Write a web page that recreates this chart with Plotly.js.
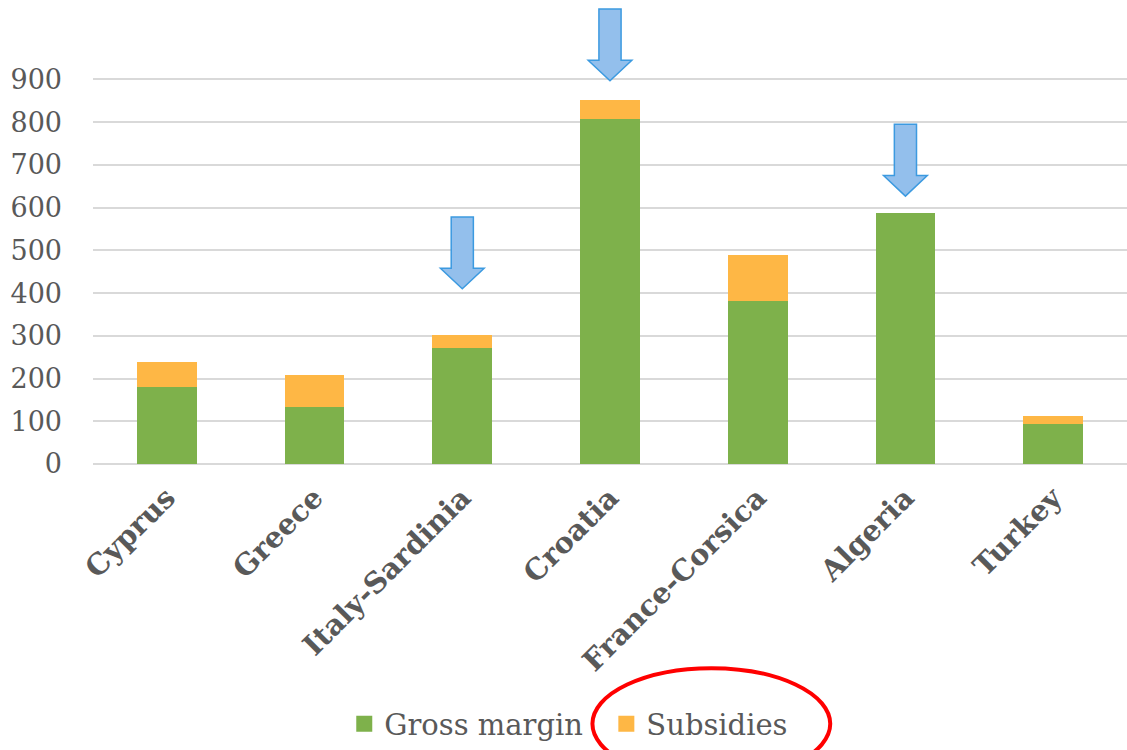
<!DOCTYPE html>
<html>
<head>
<meta charset="utf-8">
<script src="https://cdn.plot.ly/plotly-3.0.1.min.js"></script>
<style>html,body{margin:0;padding:0;background:#fff;}#chart{width:1127px;height:750px;}</style>
</head>
<body>
<div id="chart"></div>
<script>
const categories = ["Cyprus", "Greece", "Italy-Sardinia", "Croatia", "France-Corsica", "Algeria", "Turkey"];
const grossMargin = [180, 133, 272, 808, 381, 587, 94];
const subsidies = [58, 75, 30, 45, 108, 0, 18];
const yTicks = [0, 100, 200, 300, 400, 500, 600, 700, 800, 900];
const seriesNames = ["Gross margin", "Subsidies"];
const seriesColors = ["#7EB14B", "#FEB745"];
const arrowCategories = [2, 3, 5];
const arrowTops = [578, 1065, 795];

const serif = "'DejaVu Serif', 'Liberation Serif', serif";
const grey = "#595959";

const traces = [
  {type: "bar", name: seriesNames[0], x: categories, y: grossMargin,
   marker: {color: seriesColors[0]}, hoverinfo: "y", showlegend: false},
  {type: "bar", name: seriesNames[1], x: categories, y: subsidies,
   marker: {color: seriesColors[1]}, hoverinfo: "y", showlegend: false},
  {type: "scatter", mode: "markers", name: seriesNames[0] + "\u00A0\u00A0", x: [null], y: [null],
   marker: {symbol: "square", size: 16, color: seriesColors[0]}, showlegend: true, hoverinfo: "skip"},
  {type: "scatter", mode: "markers", name: seriesNames[1], x: [null], y: [null],
   marker: {symbol: "square", size: 16, color: seriesColors[1]}, showlegend: true, hoverinfo: "skip"}
];

const shapes = [];
arrowCategories.forEach((c, i) => {
  const top = arrowTops[i];
  const headStart = top - 120;
  const tip = top - 168;
  const sw = 0.075, hw = 0.148;
  const p = `M ${c - sw} ${top} L ${c + sw} ${top} L ${c + sw} ${headStart} L ${c + hw} ${headStart} L ${c} ${tip} L ${c - hw} ${headStart} L ${c - sw} ${headStart} Z`;
  shapes.push({type: "path", xref: "x", yref: "y", path: p,
    fillcolor: "#93BFEC", line: {color: "#3C9AE0", width: 1.5}});
});
shapes.push({type: "circle", xref: "paper", yref: "paper",
  x0: 0.483, x1: 0.713, y0: -0.68, y1: -0.44,
  line: {color: "#FF0000", width: 4}});

const layout = {
  width: 1127, height: 750,
  margin: {l: 93, r: 0, t: 0, b: 284},
  paper_bgcolor: "#fff", plot_bgcolor: "#fff",
  barmode: "stack", bargap: 0.595,
  font: {family: serif, color: grey, size: 26},
  xaxis: {type: "category", tickangle: -45, showgrid: false, zeroline: false,
    ticks: "", showline: false, ticklabelstandoff: 10,
    tickfont: {family: serif, size: 29, color: grey, weight: "bold"}},
  yaxis: {range: [0, 1086], tickvals: yTicks, ticktext: yTicks.map(String),
    showgrid: true, gridcolor: "#D9D9D9", gridwidth: 2, zeroline: true,
    zerolinecolor: "#D9D9D9", zerolinewidth: 2, ticks: "", ticklabelstandoff: 30,
    tickfont: {family: serif, size: 27, color: grey}},
  showlegend: true,
  legend: {orientation: "h", x: 0.243, xanchor: "left", y: -0.56, yanchor: "middle",
    font: {family: serif, size: 29, color: grey}, traceorder: "normal",
    itemwidth: 30, itemsizing: "trace", bgcolor: "rgba(0,0,0,0)"},
  shapes: shapes
};

Plotly.newPlot("chart", traces, layout, {displayModeBar: false});
</script>
</body>
</html>
